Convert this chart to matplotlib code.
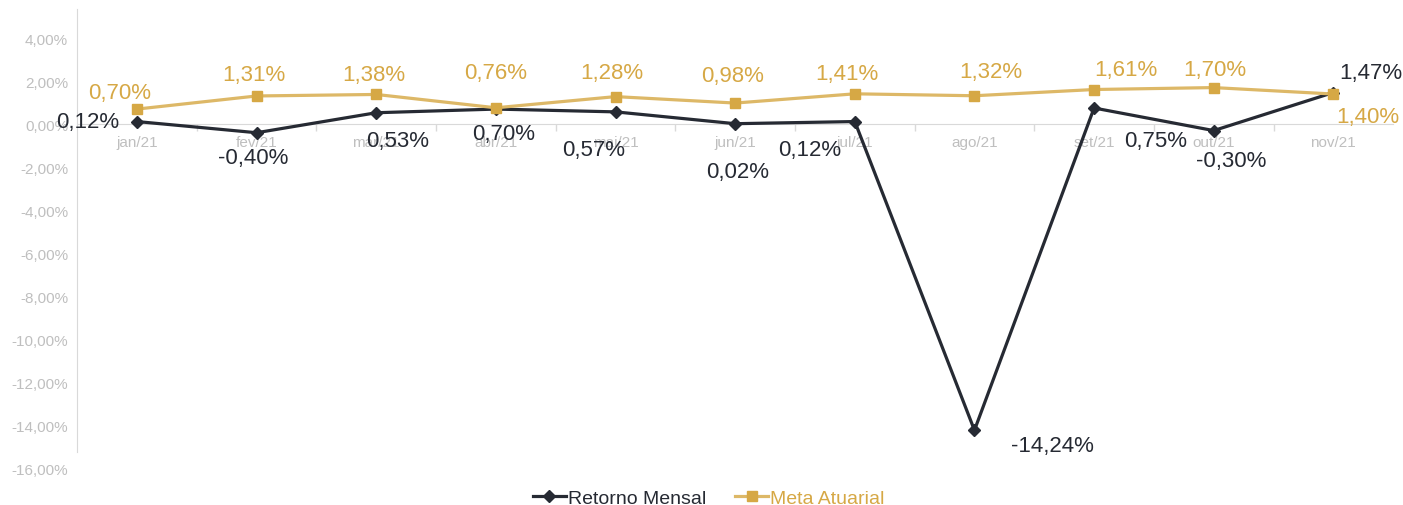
import matplotlib
matplotlib.use('Agg')
import matplotlib.pyplot as plt
import numpy as np

plt.rcParams['font.family'] = ['Liberation Sans', 'DejaVu Sans']

months = ['jan/21', 'fev/21', 'mar/21', 'abr/21', 'mai/21', 'jun/21',
          'jul/21', 'ago/21', 'set/21', 'out/21', 'nov/21']
retorno = [0.12, -0.40, 0.53, 0.70, 0.57, 0.02, 0.12, -14.24, 0.75, -0.30, 1.47]
meta = [0.70, 1.31, 1.38, 0.76, 1.28, 0.98, 1.41, 1.32, 1.61, 1.70, 1.40]

# label offsets in pixels (as placed in the original chart)
ret_off = [(-49, 0), (-3, -25), (21, -28), (8, -24), (-22, -38), (2, -48),
           (-45, -28), (78, -15), (62, -32), (17, -30), (37, 20)]
meta_off = [(-17, 17), (-3, 21), (-2, 20), (0, 35), (-4, 24), (-3, 28),
            (-8, 20), (16, 24), (32, 20), (1, 18), (34, -22)]

dark = '#262A33'
gold_line = '#DDB867'
gold = '#D6A845'
grey = '#BFBFBF'
axis_grey = '#D9D9D9'

def fmt(v):
    return f'{v:.2f}'.replace('.', ',') + '%'

fig = plt.figure(figsize=(14.03, 5.06), dpi=100)
ax = fig.add_axes([0.055, 0.056, 0.938, 0.924])
x = np.arange(len(months))

ax.plot(x, retorno, color=dark, lw=2.3, marker='D', ms=6.5, label='Retorno Mensal', zorder=3)
ax.plot(x, meta, color=gold_line, lw=2.3, marker='s', ms=7.5, mfc=gold, mec=gold,
        label='Meta Atuarial', zorder=3)

for i, v in enumerate(retorno):
    ax.annotate(fmt(v), (x[i], v), xytext=ret_off[i], textcoords='offset pixels',
                ha='center', va='center', fontsize=16, color=dark, zorder=5)
for i, v in enumerate(meta):
    ax.annotate(fmt(v), (x[i], v), xytext=meta_off[i], textcoords='offset pixels',
                ha='center', va='center', fontsize=16, color=gold, zorder=5)

ax.set_xlim(-0.5, len(months) - 0.5)
ax.set_ylim(-16.4, 5.35)
yt = np.arange(-16, 5, 2)
ax.set_yticks(yt)
ax.set_yticklabels([f'{v:.2f}'.replace('.', ',') + '%' for v in yt])
ax.tick_params(axis='y', length=0, pad=6.5, labelsize=11, labelcolor=grey)

ax.set_xticks(x)
ax.set_xticklabels(months)
ax.set_xticks(np.arange(0.5, len(months) - 0.5, 1), minor=True)
ax.tick_params(axis='x', which='major', length=0, pad=8, labelsize=11, labelcolor=grey)
ax.tick_params(axis='x', which='minor', length=5, color=axis_grey, width=1)

for s in ['top', 'right']:
    ax.spines[s].set_visible(False)
ax.spines['bottom'].set_position(('data', 0))
ax.spines['bottom'].set_color(axis_grey)
ax.spines['bottom'].set_zorder(1)
ax.spines['left'].set_color(axis_grey)
ax.spines['left'].set_bounds(-15.25, 5.35)

leg = fig.legend(loc='lower center', bbox_to_anchor=(0.505, -0.038), ncol=2, frameon=False,
                 fontsize=14, handlelength=1.7, handletextpad=0.1, columnspacing=1.5)
for t, c in zip(leg.get_texts(), [dark, gold]):
    t.set_color(c)

fig.savefig('out.png', dpi=100)
